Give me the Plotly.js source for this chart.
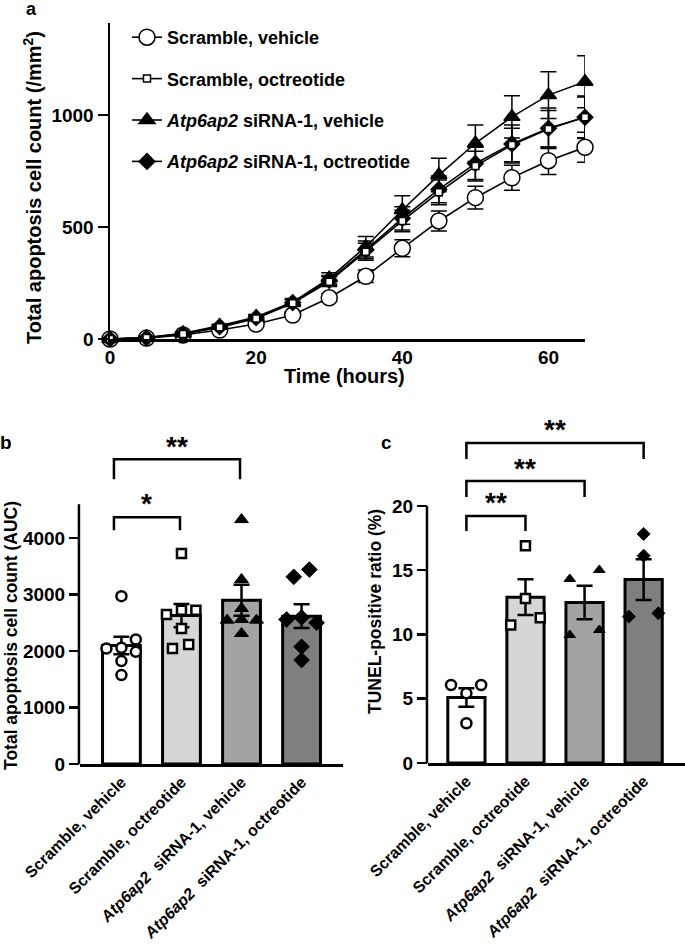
<!DOCTYPE html>
<html>
<head>
<meta charset="utf-8">
<script src="https://cdn.plot.ly/plotly-3.0.1.min.js"></script>
<style>
  html, body { margin: 0; padding: 0; background: #fff; }
  #chart { width: 685px; height: 949px; }
</style>
</head>
<body>
<div id="chart"></div>
<script>
// panel a: time course (mean +/- SE)
const time = [0, 5, 10, 15, 20, 25, 30, 35, 40, 45, 50, 55, 60, 65];
const scrVeh   = [0, 4, 18, 40, 67, 107, 184, 280, 405, 527, 631, 720, 796, 856];
const scrVehSE = [0, 1, 3, 5, 8, 12, 18, 28, 38, 45, 51, 56, 61, 67];
const scrOct   = [0, 5, 22, 52, 92, 160, 256, 390, 527, 655, 772, 866, 938, 990];
const scrOctSE = [0, 1, 4, 6, 10, 15, 22, 38, 48, 55, 66, 75, 82, 91];
const siVeh    = [0, 6, 25, 59, 98, 165, 271, 412, 576, 732, 874, 992, 1089, 1149];
const siVehSE  = [0, 1, 4, 7, 11, 16, 25, 46, 64, 75, 81, 94, 104, 116];
const siOct    = [0, 5, 23, 55, 95, 162, 262, 398, 539, 668, 784, 871, 941, 990];
const siOctSE  = [0, 1, 4, 6, 10, 15, 22, 40, 52, 60, 72, 85, 90, 95];

const seriesNames = ['Scramble, vehicle', 'Scramble, octreotide',
  '<i>Atp6ap2</i> siRNA-1, vehicle', '<i>Atp6ap2</i> siRNA-1, octreotide'];
const groupLabels = ['Scramble, vehicle', 'Scramble, octreotide',
  '<i>Atp6ap2</i>\u00a0 siRNA-1, vehicle', '<i>Atp6ap2</i>\u00a0 siRNA-1, octreotide'];

// panel b: AUC per well
const aucScrVeh = [2973, 2207, 2047, 2059, 1988, 1823, 1575];
const aucScrOct = [3729, 2649, 2726, 2726, 2401, 2047, 2118];
const aucSiVeh  = [4330, 3268, 2755, 2549, 2560, 2549, 2313];
const aucSiOct  = [3316, 3445, 2561, 2596, 2501, 2077, 1841];
const aucMean = [2100, 2630, 2900, 2620];
const aucSE   = [155, 205, 275, 210];

// panel c: TUNEL-positive ratio
const tunelScrVeh = [6.07, 5.42, 6.07, 3.09];
const tunelScrOct = [16.91, 12.79, 10.74, 11.31];
const tunelSiVeh  = [14.32, 15.02, 9.96, 10.35];
const tunelSiOct  = [17.82, 16.13, 11.39, 11.65];
const tunelMean = [5.1, 12.9, 12.49, 14.27];
const tunelSE   = [0.72, 1.39, 1.31, 1.58];

// tick values
const timeTicks = [0, 20, 40, 60];
const countTicks = [0, 500, 1000];
const aucTicks = [0, 1000, 2000, 3000, 4000];
const tunelTicks = [0, 5, 10, 15, 20];

// horizontal spread of the dots inside each bar (category units)
const jitterB = [
  [0, 0.24, -0.25, 0, 0.24, 0, 0],
  [0, -0.25, 0, 0.24, 0, -0.15, 0.12],
  [0, 0, 0, -0.24, 0, 0.25, 0],
  [-0.13, 0.13, -0.25, 0, 0.25, 0, 0]
];
const jitterC = [
  [-0.26, 0, 0.25, 0],
  [0, 0, -0.25, 0.25],
  [-0.25, 0.25, -0.25, 0.25],
  [0, 0, -0.25, 0.25]
];

const FONT = 'Liberation Sans, Arial, Helvetica, sans-serif';
const bold = (size) => ({ family: FONT, size: size, color: '#000', weight: 'bold' });
const b = (t) => '<b>' + t + '</b>';

const barColors = ['#ffffff', '#d6d6d6', '#a3a3a3', '#7f7f7f'];

// time course traces, drawn in this order so the squares end up on top
const styleA = [
  { symbol: 'circle', size: 16, color: '#fff' },
  { symbol: 'square', size: 7, color: '#fff' },
  { symbol: 'triangle-up', size: 14, color: '#000' },
  { symbol: 'diamond', size: 12, color: '#000' }
];
const ysA = [scrVeh, scrOct, siVeh, siOct];
const seA = [scrVehSE, scrOctSE, siVehSE, siOctSE];
const drawOrder = [0, 3, 2, 1];

const data = [];
drawOrder.forEach(i => {
  data.push({
    x: time, y: ysA[i], type: 'scatter', mode: 'lines+markers',
    name: b(seriesNames[i]), legendgroup: 'g' + i, legendrank: i + 1,
    cliponaxis: false,
    line: { color: '#000', width: 1.6 },
    marker: { symbol: styleA[i].symbol, size: styleA[i].size, color: styleA[i].color,
              line: { color: '#000', width: 1.5 } },
    error_y: { type: 'data', array: seA[i], color: '#000', thickness: 1.5, width: 8 },
    xaxis: 'x', yaxis: 'y'
  });
});

// bar panels
function addBarPanel(means, ses, groups, jitter, xa, ya, styles) {
  data.push({
    type: 'bar', x: [0, 1, 2, 3], y: means, width: 0.63, showlegend: false,
    marker: { color: barColors, line: { color: '#000', width: 3 } },
    error_y: { type: 'data', array: ses, color: '#000', thickness: 2.5, width: 8 },
    xaxis: xa, yaxis: ya
  });
  groups.forEach((vals, i) => {
    data.push({
      type: 'scatter', mode: 'markers', showlegend: false, cliponaxis: false,
      x: jitter[i].map(o => i + o), y: vals,
      marker: { symbol: styles[i].symbol, size: styles[i].size, color: styles[i].color,
                line: { color: '#000', width: styles[i].lw } },
      xaxis: xa, yaxis: ya
    });
  });
}

addBarPanel(aucMean, aucSE, [aucScrVeh, aucScrOct, aucSiVeh, aucSiOct], jitterB, 'x2', 'y2', [
  { symbol: 'circle', size: 10, color: '#fff', lw: 2.5 },
  { symbol: 'square', size: 9, color: '#fff', lw: 2.5 },
  { symbol: 'triangle-up', size: 12, color: '#000', lw: 1 },
  { symbol: 'diamond', size: 12, color: '#000', lw: 1 }
]);
addBarPanel(tunelMean, tunelSE, [tunelScrVeh, tunelScrOct, tunelSiVeh, tunelSiOct], jitterC, 'x3', 'y3', [
  { symbol: 'circle', size: 10, color: '#fff', lw: 2.5 },
  { symbol: 'square', size: 9, color: '#fff', lw: 2.5 },
  { symbol: 'triangle-up', size: 10, color: '#000', lw: 1 },
  { symbol: 'diamond', size: 10, color: '#000', lw: 1 }
]);

const axisBase = {
  showgrid: false, zeroline: false, showline: true, linecolor: '#000', linewidth: 2.5,
  tickcolor: '#000', tickwidth: 2.5, ticklen: 10
};

// significance brackets: [x0, x1, legY, topY, label, labelY]
const bracketsB = [
  [-0.125, 0.975, 4142, 4372, '*', 4726],
  [-0.125, 1.975, 5044, 5398, '**', 5735]
];
const bracketsC = [
  [0, 1, 18.05, 19.22, '**', 20.7],
  [0, 2, 20.7, 21.95, '**', 23.42],
  [0, 3, 23.66, 24.9, '**', 26.38]
];

const shapes = [
  { type: 'line', xref: 'x2 domain', yref: 'y2', x0: -0.004, x1: -0.004, y0: 0, y1: 4600,
    line: { color: '#000', width: 2.5 } },
  { type: 'line', xref: 'x3 domain', yref: 'y3', x0: -0.004, x1: -0.004, y0: 0, y1: 20,
    line: { color: '#000', width: 2.5 } }
];
const annotations = [];

function addBrackets(list, xa, ya) {
  list.forEach(br => {
    shapes.push({ type: 'path', xref: xa, yref: ya,
      path: `M${br[0]},${br[2]} L${br[0]},${br[3]} L${br[1]},${br[3]} L${br[1]},${br[2]}`,
      line: { color: '#000', width: 2.5 } });
    annotations.push({ xref: xa, yref: ya, x: (br[0] + br[1]) / 2, y: br[5], text: b(br[4]),
      showarrow: false, yanchor: 'middle', yshift: -6, font: bold(28) });
  });
}
addBrackets(bracketsB, 'x2', 'y2');
addBrackets(bracketsC, 'x3', 'y3');

const paperText = (x, y, text, size, extra) => Object.assign({
  xref: 'paper', yref: 'paper', x: x / 685, y: 1 - y / 949, text: b(text),
  showarrow: false, xanchor: 'center', yanchor: 'middle', font: bold(size)
}, extra || {});

annotations.push(
  paperText(32, 9, 'a', 18),
  paperText(6, 442, 'b', 19),
  paperText(387, 442, 'c', 19),
  paperText(32, 188, 'Total apoptosis cell count (/mm<sup>2</sup>)', 20, { textangle: -90 }),
  paperText(344, 376, 'Time (hours)', 20),
  paperText(11, 636, 'Total apoptosis cell count (AUC)', 17.5, { textangle: -90 }),
  paperText(375, 612, 'TUNEL-positive ratio (%)', 17.5, { textangle: -90 })
);

const numTicks = (vals) => ({ tickvals: vals, ticktext: vals.map(v => b(v)) });

const layout = {
  width: 685, height: 949,
  margin: { l: 0, r: 0, t: 0, b: 0 },
  paper_bgcolor: '#fff', plot_bgcolor: 'rgba(0,0,0,0)',
  font: { family: FONT, color: '#000' },
  showlegend: true,
  legend: {
    x: 127 / 685, y: 1 - 19 / 949, xanchor: 'left', yanchor: 'top',
    font: bold(18), bgcolor: 'rgba(0,0,0,0)', tracegroupgap: 15, traceorder: 'grouped'
  },
  xaxis: Object.assign({}, axisBase, numTicks(timeTicks), {
    domain: [110 / 685, 585 / 685], range: [0, 65], anchor: 'y',
    ticks: '', tickfont: bold(19)
  }),
  yaxis: Object.assign({}, axisBase, numTicks(countTicks), {
    domain: [1 - 339 / 949, 1 - 23 / 949], range: [0, 1411], anchor: 'x',
    ticks: 'outside', tickfont: bold(19)
  }),
  xaxis2: Object.assign({}, axisBase, {
    domain: [80 / 685, 343 / 685], range: [-0.69, 3.69], anchor: 'y2',
    tickvals: [0, 1, 2, 3], ticktext: groupLabels.map(b), tickangle: -45, ticks: '', tickfont: bold(16)
  }),
  yaxis2: Object.assign({}, axisBase, numTicks(aucTicks), {
    domain: [1 - 764 / 949, 1 - 431 / 949], range: [0, 5900], anchor: 'x2', showline: false,
    ticks: 'outside', tickfont: bold(19)
  }),
  xaxis3: Object.assign({}, axisBase, {
    domain: [428 / 685, 1], range: [-0.65, 3.7], anchor: 'y3',
    tickvals: [0, 1, 2, 3], ticktext: groupLabels.map(b), tickangle: -45, ticks: '', tickfont: bold(16)
  }),
  yaxis3: Object.assign({}, axisBase, numTicks(tunelTicks), {
    domain: [1 - 763 / 949, 1 - 416 / 949], range: [0, 27], anchor: 'x3', showline: false,
    ticks: 'outside', tickfont: bold(19)
  }),
  shapes: shapes,
  annotations: annotations
};

Plotly.newPlot('chart', data, layout, { displayModeBar: false, staticPlot: true });
</script>
</body>
</html>
